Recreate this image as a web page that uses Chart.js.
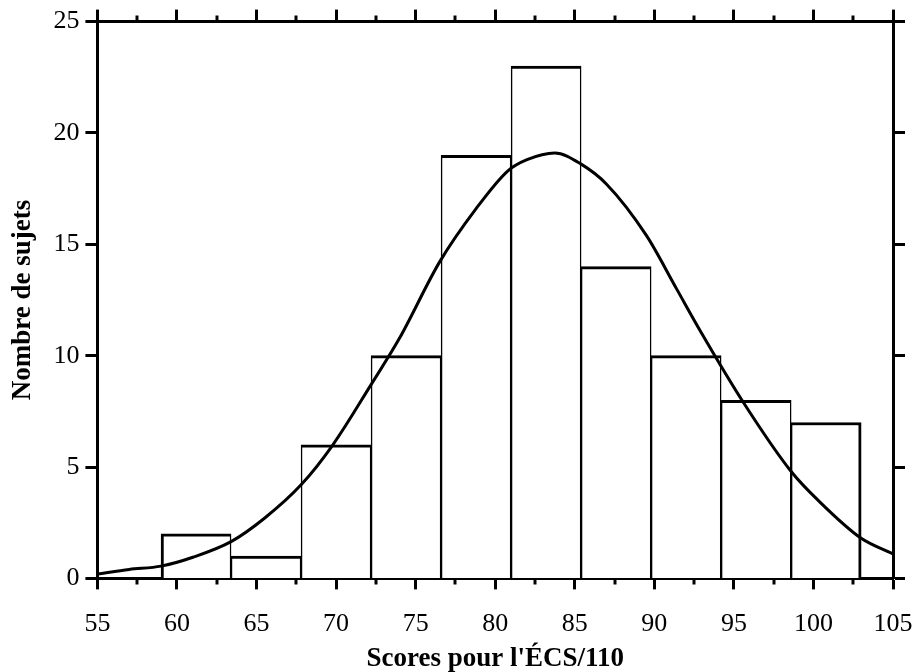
<!DOCTYPE html>
<html>
<head>
<meta charset="utf-8">
<script src="https://cdn.jsdelivr.net/npm/chart.js@4/dist/chart.umd.min.js"></script>
<style>
  html, body { margin: 0; padding: 0; background: #fff; }
  #wrap { width: 920px; height: 672px; }
</style>
</head>
<body>
<div id="wrap"><canvas id="histChart" width="920" height="672"></canvas></div>
<script>
// bins of the histogram (centre of each bin, width 4.4)
const binCenters = [61.2, 65.6, 70.0, 74.4, 78.8, 83.2, 87.6, 92.0, 96.4, 100.8];
const binCounts = [2, 1, 6, 10, 19, 23, 14, 10, 8, 7];

// fitted curve
const curveX = [55, 57, 59, 61, 63.4, 65.5, 67.8, 69.8, 72.2, 74, 76.5, 78.8, 80.8, 82, 83.75, 85.4, 87, 89.5, 91.4, 92.9, 95.6, 98.6, 100.3, 103, 105];
const curveY = [0.2, 0.4, 0.55, 0.95, 1.65, 2.7, 4.2, 6.0, 8.7, 10.8, 14.2, 16.6, 18.3, 18.8, 19.1, 18.6, 17.7, 15.4, 13.0, 11.1, 7.9, 4.8, 3.5, 1.8, 1.1];

const minorTicks = [57.5, 62.5, 67.5, 72.5, 77.5, 82.5, 87.5, 92.5, 97.5, 102.5];

const xTitle = "Scores pour l'ÉCS/110";
const yTitle = 'Nombre de sujets';

const fontFamily = '"Liberation Serif", "DejaVu Serif", serif';

const minorTickPlugin = {
  id: 'minorTicks',
  afterDraw(chart) {
    const ctx = chart.ctx;
    const x = chart.scales.x;
    const area = chart.chartArea;
    ctx.save();
    ctx.strokeStyle = '#000';
    ctx.lineWidth = 3;
    minorTicks.forEach(v => {
      const px = Math.round(x.getPixelForValue(v));
      ctx.beginPath();
      ctx.moveTo(px, area.bottom);
      ctx.lineTo(px, area.bottom + 6);
      ctx.moveTo(px, area.top);
      ctx.lineTo(px, area.top - 6);
      ctx.stroke();
    });
    ctx.restore();
  }
};

const lastBar = binCounts.length - 1;

new Chart(document.getElementById('histChart'), {
  type: 'bar',
  data: {
    datasets: [
      {
        type: 'line',
        label: 'courbe',
        data: curveX.map((v, i) => ({ x: v, y: curveY[i] })),
        borderColor: '#000',
        borderWidth: 3,
        pointRadius: 0,
        cubicInterpolationMode: 'monotone',
        fill: false,
        order: 0
      },
      {
        label: 'sujets',
        data: binCenters.map((v, i) => ({ x: v, y: binCounts[i] })),
        backgroundColor: '#fff',
        borderColor: '#000',
        borderWidth: (c) => ({
          top: 3,
          left: c.dataIndex === 0 ? 3 : 1.5,
          right: c.dataIndex === lastBar ? 3 : 1.5,
          bottom: 0
        }),
        borderSkipped: false,
        barPercentage: 1,
        categoryPercentage: 1,
        order: 1
      }
    ]
  },
  options: {
    responsive: false,
    animation: false,
    layout: { padding: { top: 8, right: 15, left: 7, bottom: 0 } },
    plugins: {
      legend: { display: false },
      tooltip: { enabled: false },
      title: { display: false }
    },
    scales: {
      x: {
        type: 'linear',
        position: 'bottom',
        offset: false,
        min: 55,
        max: 105,
        afterFit: (scale) => {
          // let the "105" label overhang the frame like in the original
          scale.paddingRight = 0;
          scale.paddingLeft = 0;
        },
        ticks: {
          stepSize: 5,
          color: '#000',
          padding: 19,
          maxRotation: 0,
          font: { family: fontFamily, size: 26 }
        },
        grid: { offset: false, drawOnChartArea: false, tickLength: 11, tickWidth: 3, tickColor: '#000' },
        border: { display: true, color: '#000', width: 3 },
        title: {
          display: true,
          text: xTitle,
          color: '#000',
          padding: { top: -16, bottom: -3 },
          font: { family: fontFamily, size: 27, weight: 'bold' }
        }
      },
      x2: {
        type: 'linear',
        position: 'top',
        offset: false,
        min: 55,
        max: 105,
        afterFit: (scale) => {
          scale.paddingRight = 0;
          scale.paddingLeft = 0;
        },
        ticks: { stepSize: 5, display: false },
        grid: { offset: false, drawOnChartArea: false, tickLength: 12, tickWidth: 3, tickColor: '#000' },
        border: { display: true, color: '#000', width: 3 }
      },
      y: {
        position: 'left',
        min: 0,
        max: 25,
        ticks: {
          stepSize: 5,
          color: '#000',
          padding: 6,
          font: { family: fontFamily, size: 26 }
        },
        grid: { drawOnChartArea: false, tickLength: 12, tickWidth: 3, tickColor: '#000' },
        border: { display: true, color: '#000', width: 3 },
        title: {
          display: true,
          text: yTitle,
          color: '#000',
          padding: { top: 0, bottom: 8 },
          font: { family: fontFamily, size: 27, weight: 'bold' }
        }
      },
      y2: {
        position: 'right',
        min: 0,
        max: 25,
        ticks: { stepSize: 5, display: false },
        grid: { drawOnChartArea: false, tickLength: 12, tickWidth: 3, tickColor: '#000' },
        border: { display: true, color: '#000', width: 3 }
      }
    }
  },
  plugins: [minorTickPlugin]
});
</script>
</body>
</html>
